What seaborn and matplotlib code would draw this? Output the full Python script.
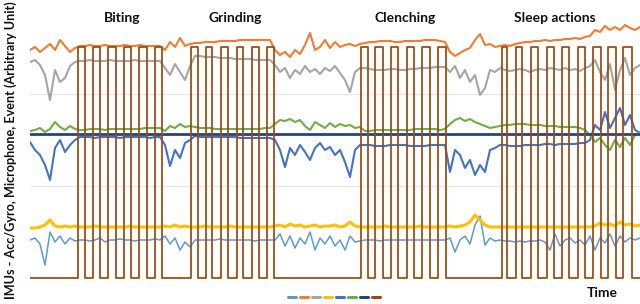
import numpy as np
import pandas as pd
import matplotlib
matplotlib.use("Agg")
import matplotlib.pyplot as plt
from matplotlib.lines import Line2D
import seaborn as sns

# ---------------- data (arbitrary units) ----------------
time = np.arange(0, 611, 5)

light_blue = ([38, 40, 34, 13, 46, 36, 42, 34, 40, 37]
              + [38, 38, 37, 38, 40, 36, 38, 38, 39, 38, 38, 37, 38, 38, 38, 39, 38]
              + [42, 34, 40, 28, 36, 31]
              + [38, 38, 38, 38, 38, 39, 38, 38, 38, 38, 38, 38, 37, 38, 38, 38]
              + [38, 44, 32, 42, 30, 40, 34, 46, 28, 40, 34, 42, 32, 38, 28, 42, 36, 37]
              + [38, 38, 38, 37, 38, 38, 38, 38, 38, 38, 38, 38, 38, 38, 38, 38, 38]
              + [40, 26, 38, 42, 34, 53, 62, 33, 40, 37, 38]
              + [37, 37, 36, 37, 36, 37, 37, 38, 36, 28, 44, 32, 38, 40, 35, 38, 33, 42, 28, 40, 35, 44, 32, 42, 36, 40]
              + [38, 40])

orange = ([228, 231, 226, 230, 234, 228, 238, 232, 226, 230]
          + [232, 232, 233, 232, 232, 233, 232, 232, 232, 233, 232, 232, 233, 232, 232, 232, 232]
          + [228, 236, 231, 240, 232, 234]
          + [235, 235, 236, 236, 236, 237, 237, 237, 237, 238, 238, 238, 238, 238, 238, 238]
          + [228, 223, 226, 221, 228, 224, 233, 245, 228, 231, 238, 230, 236, 231, 233, 234, 232, 234]
          + [235, 236, 236, 237, 237, 237, 236, 236, 237, 237, 237, 237, 238, 238, 238, 237, 236]
          + [226, 222, 225, 228, 230, 238, 244, 233, 234, 231, 232]
          + [233, 232, 234, 235, 236, 236, 237, 237, 238, 237, 238, 238, 239, 239, 240, 239, 241, 242, 248, 246, 252, 248, 251, 248, 253, 250]
          + [248, 251])

gray = ([216, 218, 213, 203, 178, 208, 196, 200, 212, 216]
        + [217, 217, 218, 217, 217, 217, 218, 217, 217, 217, 217, 218, 217, 217, 217, 217, 217]
        + [210, 203, 214, 206, 198, 212]
        + [222, 222, 221, 221, 221, 220, 220, 220, 219, 219, 219, 219, 218, 218, 218, 218]
        + [213, 206, 210, 200, 208, 204, 212, 206, 209, 204, 210, 207, 212, 205, 198, 186, 206, 210]
        + [210, 209, 208, 208, 208, 209, 209, 208, 208, 209, 209, 210, 210, 210, 211, 211, 211]
        + [206, 212, 200, 208, 196, 203, 183, 190, 208, 206, 210]
        + [208, 207, 208, 209, 208, 206, 208, 209, 208, 210, 209, 208, 210, 208, 209, 207, 210, 212, 218, 206, 198, 214, 188, 208, 220, 203]
        + [210, 213])

yellow = ([50, 50, 51, 53, 58, 52, 51, 52, 51, 52]
          + [51, 51, 51, 52, 51, 51, 51, 51, 51, 51, 52, 51, 51, 51, 51, 51, 51]
          + [52, 51, 53, 51, 52, 51]
          + [51, 51, 52, 51, 51, 51, 51, 52, 51, 51, 51, 51, 51, 51, 51, 51]
          + [52, 53, 51, 54, 52, 53, 51, 52, 53, 51, 52, 52, 53, 51, 52, 56, 52, 51]
          + [51, 51, 51, 51, 52, 51, 51, 51, 51, 51, 51, 52, 51, 51, 51, 51, 51]
          + [52, 51, 52, 53, 56, 63, 58, 53, 51, 51, 51]
          + [51, 51, 51, 51, 51, 51, 51, 51, 51, 51, 51, 51, 51, 51, 51, 51, 51, 51, 52, 55, 53, 54, 52, 56, 53, 54]
          + [52, 53])

blue = ([136, 128, 123, 113, 98, 130, 138, 126, 133, 138]
        + [141, 141, 141, 140, 141, 141, 141, 141, 140, 141, 141, 141, 141, 141, 140, 141, 141]
        + [133, 112, 128, 120, 135, 138]
        + [142, 141, 141, 141, 141, 141, 141, 141, 141, 140, 140, 140, 140, 140, 140, 140]
        + [138, 128, 111, 130, 123, 133, 126, 118, 130, 135, 128, 131, 123, 128, 116, 101, 128, 133]
        + [133, 133, 132, 132, 132, 133, 133, 133, 133, 132, 132, 132, 132, 133, 133, 133, 133]
        + [106, 128, 123, 110, 118, 103, 113, 106, 128, 130, 133]
        + [133, 132, 132, 132, 133, 133, 133, 133, 134, 134, 133, 134, 134, 134, 134, 135, 135, 138, 153, 148, 166, 150, 160, 170, 153, 163]
        + [148, 145])

green = ([147, 148, 150, 146, 149, 156, 151, 148, 152, 149]
         + [148, 148, 149, 149, 149, 148, 149, 149, 149, 149, 149, 149, 149, 150, 150, 150, 150]
         + [147, 152, 150, 154, 151, 152]
         + [151, 150, 150, 150, 149, 149, 149, 149, 149, 149, 149, 149, 149, 149, 150, 150]
         + [154, 158, 157, 159, 156, 158, 152, 148, 156, 153, 150, 155, 151, 154, 152, 153, 150, 151]
         + [147, 147, 148, 148, 148, 148, 148, 148, 148, 148, 149, 149, 149, 149, 149, 148, 149]
         + [154, 158, 160, 157, 159, 156, 154, 152, 150, 151, 152]
         + [153, 153, 154, 154, 154, 153, 153, 153, 152, 152, 152, 151, 151, 151, 151, 150, 148, 143, 136, 140, 133, 128, 138, 131, 140, 133]
         + [143, 146])

navy_time = [0, 610]
navy = [144, 144]

event_high = 231
event_on = [48, 63, 78, 94, 109, 125,
            161, 176, 191, 207, 222, 237,
            331, 345, 361, 377, 392, 408,
            472, 486, 501, 517, 532, 548, 563, 578, 593]
event_off = [55, 70, 86, 101, 117, 132,
             168, 182, 198, 213, 229, 244,
             338, 353, 368, 384, 400, 416,
             477, 492, 508, 524, 539, 555, 571, 586, 602]

phase_labels = ["Biting", "Grinding", "Clenching", "Sleep actions"]
phase_pos = [92, 205, 375, 525]

# ---------------- build tables ----------------
df = pd.DataFrame({"time": time, "light_blue": light_blue, "orange": orange,
                   "gray": gray, "yellow": yellow, "blue": blue, "green": green})

ev_t, ev_v = [0], [0]
for on, off in zip(event_on, event_off):
    ev_t += [on, on, off, off]
    ev_v += [0, event_high, event_high, 0]
ev_t.append(610)
ev_v.append(0)
ev = pd.DataFrame({"t": ev_t, "v": ev_v})

colors = {"light_blue": "#5B9BD5", "orange": "#ED7D31", "gray": "#A5A5A5",
          "yellow": "#FFC000", "blue": "#4472C4", "green": "#70AD47",
          "navy": "#264478", "event": "#9E480E"}
widths = {"light_blue": 1.1, "orange": 1.5, "gray": 1.5, "yellow": 2.2,
          "blue": 1.5, "green": 1.5}

# ---------------- plot ----------------
sns.set_theme(style="white")
plt.rcParams["font.family"] = ["Lato", "DejaVu Sans"]

fig = plt.figure(figsize=(6.4, 3.04), dpi=100)
ax = fig.add_axes([30 / 640, 0, 610 / 640, 1])

for name in ["light_blue", "orange", "gray", "yellow", "blue", "green"]:
    sns.lineplot(data=df, x="time", y=name, ax=ax, color=colors[name],
                 linewidth=widths[name], estimator=None, legend=False)
sns.lineplot(x=navy_time, y=navy, ax=ax, color=colors["navy"], linewidth=2.0,
             estimator=None, legend=False)
sns.lineplot(data=ev, x="t", y="v", ax=ax, color=colors["event"], linewidth=1.25,
             estimator=None, sort=False, legend=False)

ax.set_xlim(0, 610)
ax.set_ylim(-26, 278)
ax.set_yticks([92, 184])
ax.set_xticks([])
ax.yaxis.grid(True, color="#e6e6e6", linewidth=0.8)
ax.set_axisbelow(True)
ax.tick_params(left=False, labelleft=False)
for s in ax.spines.values():
    s.set_visible(False)
ax.set_xlabel("")
ax.set_ylabel("")

for lab, pos in zip(phase_labels, phase_pos):
    ax.text(pos, 260, lab, fontsize=10, fontweight="bold", color="#111111",
            ha="center", va="center")

fig.text(602 / 640, 1 - 293 / 304, "Time", fontsize=10, fontweight="bold",
         color="#111111", ha="center", va="center")
fig.text(11 / 640, 0.505, "IMUs - Acc/Gyro, Microphone, Event (Arbitrary Unit)",
         rotation=90, fontsize=9.1, fontweight="bold", color="#111111",
         ha="center", va="center")

handles = [Line2D([], [], color=colors[k], linewidth=2.2)
           for k in ["light_blue", "orange", "gray", "yellow", "blue", "green", "navy", "event"]]
fig.legend(handles, [""] * 8, ncol=8, loc="center",
           bbox_to_anchor=(334 / 640, 1 - 297 / 304), frameon=False,
           fontsize=6, handlelength=1.0, handletextpad=0.0, columnspacing=0.45,
           borderpad=0, borderaxespad=0)

fig.savefig("out.png", dpi=100)
